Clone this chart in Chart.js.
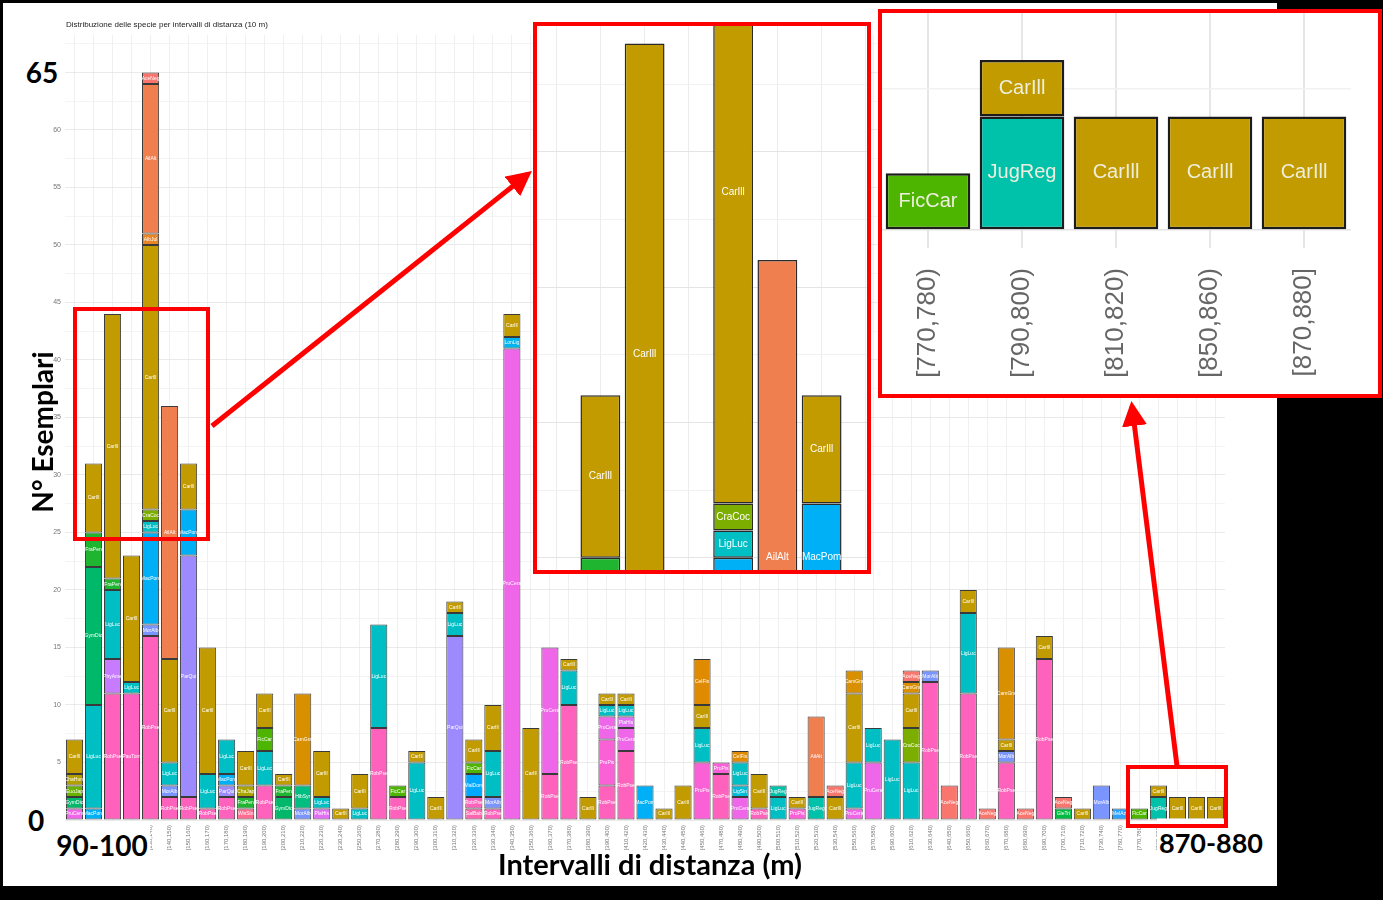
<!DOCTYPE html>
<html><head><meta charset="utf-8">
<script src="https://cdn.jsdelivr.net/npm/chart.js@4.4.1/dist/chart.umd.min.js"></script>
<style>
html,body{margin:0;padding:0;background:#000;width:1383px;height:900px;overflow:hidden;}
#panel{position:absolute;left:3px;top:3px;width:1274px;height:883px;background:#fff;}
#mainCv{position:absolute;left:3px;top:3px;}
.big{position:absolute;font-family:Lato,"Open Sans",sans-serif;font-weight:700;color:#000;line-height:1;white-space:nowrap;transform:translate(-50%,-50%);}
.bg{background:#fff;padding:3px 2px;}
.box{position:absolute;border:4px solid #f00;box-sizing:border-box;}
.inset{position:absolute;border:4px solid #f00;box-sizing:border-box;background:#fff;overflow:hidden;}
.inset canvas{position:absolute;}
#title{position:absolute;left:66px;top:20px;font:8px "Liberation Sans",Arial,sans-serif;color:#222;white-space:nowrap;}
</style></head><body>
<div id="panel"></div>
<canvas id="mainCv" width="1274" height="883"></canvas>
<div id="title">Distribuzione delle specie per intervalli di distanza (10 m)</div>
<div class="big bg" style="left:42px;top:72px;font-size:28px;">65</div>
<div class="big bg" style="left:36px;top:820px;font-size:28px;">0</div>
<div class="big bg" style="left:102px;top:842px;font-size:28px;padding:10px 2px 4px 2px;">90-100</div>
<div class="big bg" style="left:1211px;top:839px;font-size:27px;padding:10px 2px 4px 2px;">870-880</div>
<div class="big" style="left:650px;top:863px;font-size:29px;">Intervalli di distanza (m)</div>
<div class="big" style="left:42px;top:432px;font-size:28px;transform:translate(-50%,-50%) rotate(-90deg);">N° Esemplari</div>
<div class="box" style="left:73px;top:307px;width:137px;height:234px;"></div>
<div class="box" style="left:1126px;top:765px;width:102px;height:63px;"></div>
<div class="inset" style="left:533px;top:22px;width:338px;height:552px;"><canvas id="in1" width="354" height="812" style="left:-3.5px;top:-145.5px;"></canvas></div>
<div class="inset" style="left:878px;top:9px;width:504px;height:389px;"><canvas id="in2" width="470" height="381" style="left:-1px;top:0px;"></canvas></div>
<svg width="1383" height="900" style="position:absolute;left:0;top:0;pointer-events:none">
<defs><marker id="ah" viewBox="0 0 10 10" refX="8" refY="5" markerWidth="5" markerHeight="5" orient="auto" markerUnits="strokeWidth"><path d="M0,0 L10,5 L0,10 z" fill="#f00"/></marker></defs>
<line x1="212" y1="426" x2="528" y2="174" stroke="#f00" stroke-width="5" marker-end="url(#ah)"/>
<line x1="1177" y1="766" x2="1132" y2="406" stroke="#f00" stroke-width="5" marker-end="url(#ah)"/>
</svg>
<script>
const categories = ["[90,100)","[100,110)","[110,120)","[120,130)","[130,140)","[140,150)","[150,160)","[160,170)","[170,180)","[180,190)","[190,200)","[200,210)","[210,220)","[220,230)","[230,240)","[250,260)","[270,280)","[280,290)","[290,300)","[300,310)","[310,320)","[320,330)","[330,340)","[340,350)","[350,360)","[360,370)","[370,380)","[380,390)","[390,400)","[410,420)","[420,430)","[430,440)","[440,450)","[450,460)","[470,480)","[480,490)","[490,500)","[500,510)","[510,520)","[520,530)","[530,540)","[550,560)","[570,580)","[590,600)","[610,620)","[630,640)","[640,650)","[650,660)","[660,670)","[670,680)","[680,690)","[690,700)","[700,710)","[710,720)","[730,740)","[760,770)","[770,780)","[790,800)","[810,820)","[850,860)","[870,880]"];

// species, top-of-stack order first
const speciesOrder = ["AceNeg","AilAlt","AlbJul","CamGra","CelFis","CarIll","ChaHum","ChaJap","CraCoc","EuoJap","FicCar","FraPen","GleTri","GymDio","HibSyr","JugReg","LigLuc","LigSin","LonLig","MacPom","MalDom","MelAze","MorAlb","ParQui","PauTom","PhyAme","PlaHis","PruCera","PruPis","RobPse","SalBab","WisSin"];
const speciesColors = ["#F8766D","#F07F50","#E88526","#D89000","#E08A00","#C29B00","#B3A000","#A9A400","#7CAE00","#6BB100","#4DB400","#1FB530","#00BA42","#00B86A","#00BE82","#00C1AA","#00BFC4","#00BCD8","#00B4EF","#00B0F6","#00A8FF","#2EA2FF","#7B95FF","#9D8AFF","#FF5FC0","#C77CFF","#E36EF6","#F066E8","#FB61D7","#FF62BC","#FF65AE","#FF6C91"];

// segments of each bar, bottom to top: [species, count]
const barSegments = [
 [["PruCera",1],["GymDio",1],["EuoJap",1],["ChaHum",1],["CarIll",3]],
 [["MacPom",1],["LigLuc",9],["GymDio",12],["FraPen",3],["CarIll",6]],
 [["RobPse",11],["PhyAme",3],["LigLuc",6],["FraPen",1],["CarIll",23]],
 [["PauTom",11],["LigLuc",1],["CarIll",11]],
 [["RobPse",16],["MorAlb",1],["MacPom",8],["LigLuc",1],["CraCoc",1],["CarIll",23],["AlbJul",1],["AilAlt",13],["AceNeg",1]],
 [["RobPse",2],["MorAlb",1],["LigLuc",2],["CarIll",9],["AilAlt",22]],
 [["RobPse",2],["ParQui",21],["MacPom",4],["CarIll",4]],
 [["RobPse",1],["LigLuc",3],["CarIll",11]],
 [["RobPse",2],["ParQui",1],["MacPom",1],["LigLuc",3]],
 [["WisSin",1],["FraPen",1],["ChaJap",1],["CarIll",3]],
 [["RobPse",3],["LigLuc",3],["FicCar",2],["CarIll",3]],
 [["GymDio",2],["FraPen",1],["CarIll",1]],
 [["MorAlb",1],["HibSyr",2],["CamGra",8]],
 [["PlaHis",1],["LigLuc",1],["CarIll",4]],
 [["CarIll",1]],
 [["LigLuc",1],["CarIll",3]],
 [["RobPse",8],["LigLuc",9]],
 [["RobPse",2],["FicCar",1]],
 [["LigLuc",5],["CarIll",1]],
 [["CarIll",2]],
 [["ParQui",16],["LigLuc",2],["CarIll",1]],
 [["SalBab",1],["RobPse",1],["MalDom",2],["FicCar",1],["CarIll",2]],
 [["RobPse",1],["MorAlb",1],["LigLuc",4],["CarIll",4]],
 [["PruCera",41],["LonLig",1],["CarIll",2]],
 [["CarIll",8]],
 [["RobPse",4],["PruCera",11]],
 [["RobPse",10],["LigLuc",3],["CarIll",1]],
 [["CarIll",2]],
 [["RobPse",3],["PruPis",4],["PruCera",2],["LigLuc",1],["CarIll",1]],
 [["RobPse",6],["PruCera",2],["PlaHis",1],["LigLuc",1],["CarIll",1]],
 [["MacPom",3]],
 [["CarIll",1]],
 [["CarIll",3]],
 [["PruPis",5],["LigLuc",3],["CarIll",2],["CelFis",4]],
 [["RobPse",4],["PruPis",1]],
 [["PruCera",2],["LigSin",1],["LigLuc",2],["CelFis",1]],
 [["RobPse",1],["CarIll",3]],
 [["LigLuc",2],["JugReg",1]],
 [["PruPis",1],["CarIll",1]],
 [["JugReg",2],["AilAlt",7]],
 [["CarIll",2],["AceNeg",1]],
 [["PruCera",1],["LigLuc",4],["CarIll",6],["CamGra",2]],
 [["PruCera",5],["LigLuc",3]],
 [["LigLuc",7]],
 [["LigLuc",5],["CraCoc",3],["CarIll",3],["CamGra",1],["AceNeg",1]],
 [["RobPse",12],["MorAlb",1]],
 [["AceNeg",3]],
 [["RobPse",11],["LigLuc",7],["CarIll",2]],
 [["AceNeg",1]],
 [["RobPse",5],["MorAlb",1],["CarIll",1],["CamGra",8]],
 [["AceNeg",1]],
 [["RobPse",14],["CarIll",2]],
 [["GleTri",1],["AceNeg",1]],
 [["CarIll",1]],
 [["MorAlb",3]],
 [["MelAze",1]],
 [["FicCar",1]],
 [["JugReg",2],["CarIll",1]],
 [["CarIll",2]],
 [["CarIll",2]],
 [["CarIll",2]]
];

const yTickLabels = [5,10,15,20,25,30,35,40,45,50,55,60];
const yGridStep = 2.5;

function gridValues(lo, hi){ const a=[]; for(let v=lo; v<=hi+1e-9; v+=yGridStep) a.push({value:v}); return a; }

function buildDatasets(start, end, borderColor, borderWidth){
  return speciesOrder.slice().reverse().map(sp => {
    const data = [];
    for (let i=start;i<end;i++){ const seg = barSegments[i].find(s=>s[0]===sp); data.push(seg?seg[1]:null); }
    return {label:sp, data, backgroundColor:speciesColors[speciesOrder.indexOf(sp)], borderColor, borderWidth,
            borderSkipped:false, barPercentage:0.9, categoryPercentage:1.0};
  }).filter(ds => ds.data.some(v=>v!=null));
}

const segLabels = {
  id:'segLabels',
  afterDatasetsDraw(chart, args, o){
    const ctx = chart.ctx; ctx.save();
    ctx.font = (o.weight||'normal')+' '+o.size+'px '+(o.family||'"Liberation Sans", Arial, sans-serif');
    ctx.fillStyle = o.color||'#fff'; ctx.textAlign='center'; ctx.textBaseline='middle';
    chart.data.datasets.forEach((ds,i)=>{
      const meta = chart.getDatasetMeta(i);
      meta.data.forEach((el,j)=>{
        if (ds.data[j]==null) return;
        const p = el.getProps(['x','y','base'], true);
        ctx.fillText(ds.label, p.x, (p.y+p.base)/2);
      });
    });
    ctx.restore();
  }
};

const gridColor = c => (c.tick && Math.abs(c.tick.value % 5) < 1e-6) ? '#e4e4e4' : '#f1f1f1';

// main chart
new Chart(document.getElementById('mainCv'), {
  type:'bar',
  data:{labels:categories, datasets:buildDatasets(0, categories.length, '#3a3a3a', 1)},
  options:{
    responsive:false, animation:false, devicePixelRatio:1,
    layout:{padding:{top:32,right:52,left:0,bottom:0}},
    plugins:{legend:{display:false}, tooltip:{enabled:false}, segLabels:{size:5, color:'#ffffff'}},
    scales:{
      x:{stacked:true, border:{display:false},
         grid:{offset:false, color:'#ececec', lineWidth:0.8, drawTicks:false},
         ticks:{autoSkip:false, minRotation:90, maxRotation:90, padding:5, color:'#777',
                font:{size:6, family:'"Liberation Sans", Arial, sans-serif'}},
         afterFit(s){ s.height = 66; s.paddingLeft = 0; s.paddingRight = 0; }},
      y:{stacked:true, min:0, max:68.25, border:{display:false},
         grid:{color:gridColor, lineWidth:0.8, drawTicks:false},
         afterBuildTicks(s){ s.ticks = gridValues(0, 67.5); },
         ticks:{padding:4, color:'#777', font:{size:7, family:'"Liberation Sans", Arial, sans-serif'},
                callback:(v)=> yTickLabels.includes(v) ? String(v) : ''},
         afterFit(s){ s.width = 62; }}
    }
  },
  plugins:[segLabels]
});

// inset 1: zoom on the first bars
new Chart(document.getElementById('in1'), {
  type:'bar',
  data:{labels:categories.slice(0,8), datasets:buildDatasets(0, 8, '#2a2a2a', 1.5)},
  options:{
    responsive:false, animation:false, devicePixelRatio:1,
    layout:{padding:0},
    plugins:{legend:{display:false}, tooltip:{enabled:false}, segLabels:{size:10, color:'#ffffff'}},
    scales:{
      x:{stacked:true, border:{display:false}, grid:{offset:false, color:'#ececec', lineWidth:1, drawTicks:false},
         ticks:{display:false}, afterFit(s){ s.height = 0; s.paddingLeft = 0; s.paddingRight = 0; }},
      y:{stacked:true, min:20, max:50, border:{display:false}, grid:{color:gridColor, lineWidth:1, drawTicks:false},
         afterBuildTicks(s){ s.ticks = gridValues(20, 50); },
         ticks:{display:false}, afterFit(s){ s.width = 0; }}
    }
  },
  plugins:[segLabels]
});

// inset 2: zoom on the last bars
const n = categories.length;
new Chart(document.getElementById('in2'), {
  type:'bar',
  data:{labels:categories.slice(n-5), datasets:buildDatasets(n-5, n, '#1c1c1c', 2.5)},
  options:{
    responsive:false, animation:false, devicePixelRatio:1,
    layout:{padding:0},
    plugins:{legend:{display:false}, tooltip:{enabled:false}, segLabels:{size:20, color:'#eeeedd'}},
    scales:{
      x:{stacked:true, border:{display:false}, grid:{offset:false, color:'#e6e6e6', lineWidth:2, drawTicks:false},
         ticks:{autoSkip:false, minRotation:90, maxRotation:90, padding:20, color:'#666',
                font:{size:26, family:'"Liberation Sans", Arial, sans-serif'}},
         afterFit(s){ s.height = 146; s.paddingLeft = 0; s.paddingRight = 0; }},
      y:{stacked:true, min:-0.317, max:3.827, border:{display:false}, grid:{color:gridColor, lineWidth:1.5, drawTicks:false},
         afterBuildTicks(s){ s.ticks = gridValues(0, 2.5); },
         ticks:{display:false}, afterFit(s){ s.width = 0; }}
    }
  },
  plugins:[segLabels]
});
</script>
</body></html>
